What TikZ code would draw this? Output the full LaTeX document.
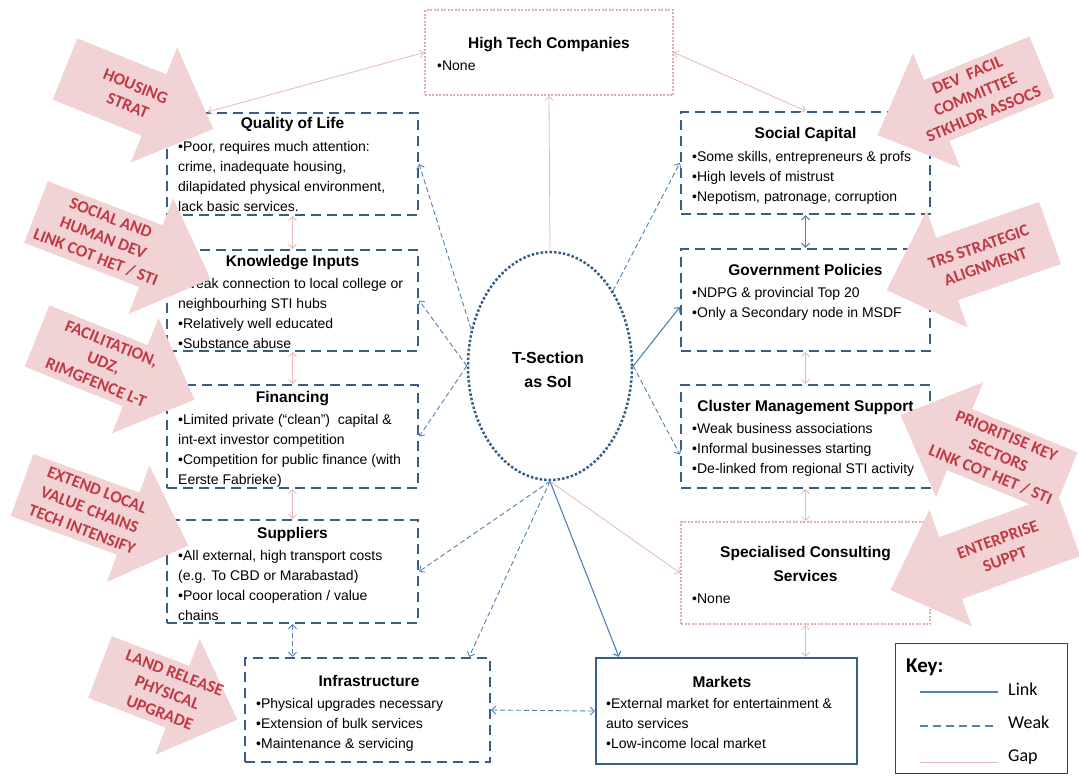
\documentclass[tikz,border=0pt]{standalone}
\usepackage{fontspec}
\setmainfont{Liberation Sans}
\newfontfamily\calibrifont{Carlito}
\usetikzlibrary{arrows.meta,shapes.geometric,calc}

\definecolor{boxblue}{RGB}{56,93,138}
\definecolor{linkblue}{RGB}{79,129,189}
\definecolor{gappink}{RGB}{230,185,184}
\definecolor{dotpink}{RGB}{228,172,172}
\definecolor{arrowfill}{RGB}{242,211,213}
\definecolor{arrowtext}{RGB}{192,58,70}

% block arrow: tail centre (#1,#2), direction #3, length #4, label angle #5, label #6
\newcommand{\blockarrow}[6]{%
  \begin{scope}[shift={(#1,#2)}, rotate=#3]
    \fill[arrowfill] (0,-33) -- ({#4-64},-33) -- ({#4-64},-62) -- (#4,0)
      -- ({#4-64},62) -- ({#4-64},33) -- (0,33) -- cycle;
    \node[arrowlabel, rotate=#5] at (72,0) {#6};
  \end{scope}}

\begin{document}
\begin{tikzpicture}[x=1pt,y=-1pt,
  box/.style={rectangle, inner sep=0pt, fill=white},
  weakbox/.style={box, draw=boxblue, line width=2.3pt, dash pattern=on 10pt off 6pt},
  linkbox/.style={box, draw=boxblue, line width=2.3pt},
  gapbox/.style={box, draw=dotpink, line width=2pt, dash pattern=on 2pt off 1.5pt},
  boxtitle/.style={font=\fontsize{15.5}{24}\selectfont\bfseries, inner sep=0pt, anchor=base},
  boxbody/.style={font=\fontsize{14}{20}\selectfont, inner sep=0pt, anchor=north west, align=left},
  barbs/.style={>={Straight Barb[length=4pt,width=8pt]}},
  gapline/.style={draw=gappink, line width=0.8pt, barbs},
  weakline/.style={draw=linkblue, line width=0.9pt, dash pattern=on 5pt off 3pt, barbs},
  linkline/.style={draw=linkblue, line width=1.1pt, barbs},
  arrowlabel/.style={text=arrowtext, font=\calibrifont\bfseries\fontsize{17}{21}\selectfont, align=center, inner sep=0pt},
  keylabel/.style={font=\calibrifont\fontsize{18}{20}\selectfont, anchor=base west, inner sep=0pt},
]
\useasboundingbox (0,0) rectangle (1079,777);
\fill[white] (0,0) rectangle (1079,777);

% ---- centre
\node[ellipse, draw=boxblue, line width=2.5pt, dash pattern=on 2.5pt off 2pt,
      minimum width=164pt, minimum height=228pt, inner sep=0pt, fill=white] (sol) at (550,366) {};
\node[boxtitle, font=\fontsize{16}{24}\selectfont\bfseries] (soltop) at (548,363) {T-Section};
\node[boxtitle, font=\fontsize{16}{24}\selectfont\bfseries] (solbot) at (548,387) {as SoI};

% ---- left column
\node[weakbox, minimum width=251pt, minimum height=102pt] (qol) at (292.5,164) {};
\node[boxtitle] at (292.5,128.5) {Quality of Life};
\node[boxbody] at (178,137) {\strut•Poor, requires much attention:\\crime, inadequate housing,\\dilapidated physical environment,\\lack basic services.};

\node[weakbox, minimum width=251pt, minimum height=101pt] (know) at (292.5,300.5) {};
\node[boxtitle] at (292.5,266.5) {Knowledge Inputs};
\node[boxbody] at (178,274) {\strut•Weak connection to local college or\\neighbourhing STI hubs\\•Relatively well educated\\•Substance abuse};

\node[weakbox, minimum width=251pt, minimum height=103pt] (fin) at (292.5,436.5) {};
\node[boxtitle] at (292.5,402.5) {Financing};
\node[boxbody] at (178,410) {\strut•Limited private (“clean”) \ capital \&\\int-ext investor competition\\•Competition for public finance (with\\Eerste Fabrieke)};

\node[weakbox, minimum width=251pt, minimum height=103pt] (sup) at (292.5,571.5) {};
\node[boxtitle] at (292.5,538.5) {Suppliers};
\node[boxbody] at (178,546) {\strut•All external, high transport costs\\(e.g. To CBD or Marabastad)\\•Poor local cooperation / value\\chains};

% ---- bottom row
\node[weakbox, minimum width=245pt, minimum height=104pt] (infra) at (367.5,710) {};
\node[boxtitle] at (369,686.5) {Infrastructure};
\node[boxbody] at (256,694) {\strut•Physical upgrades necessary\\•Extension of bulk services\\•Maintenance \& servicing};

\node[linkbox, minimum width=261pt, minimum height=106pt] (mkt) at (726.5,711) {};
\node[boxtitle] at (722,687.5) {Markets};
\node[boxbody] at (606,694) {\strut•External market for entertainment \&\\auto services\\•Low-income local market};

% ---- top
\node[gapbox, minimum width=248pt, minimum height=85pt] (htc) at (549,52.5) {};
\node[boxtitle] at (549,48.5) {High Tech Companies};
\node[boxbody] at (437,56) {\strut•None};

% ---- right column
\node[weakbox, minimum width=249pt, minimum height=102pt] (soc) at (805.5,163) {};
\node[boxtitle] at (805.5,138.5) {Social Capital};
\node[boxbody] at (692,147) {\strut•Some skills, entrepreneurs \& profs\\•High levels of mistrust\\•Nepotism, patronage, corruption};

\node[weakbox, minimum width=249pt, minimum height=102pt] (gov) at (805.5,300) {};
\node[boxtitle] at (805.5,275.5) {Government Policies};
\node[boxbody] at (692,283) {\strut•NDPG \& provincial Top 20\\•Only a Secondary node in MSDF};

\node[weakbox, minimum width=249pt, minimum height=103pt] (clus) at (805.5,436.5) {};
\node[boxtitle] at (805.5,411.5) {Cluster Management Support};
\node[boxbody] at (692,419) {\strut•Weak business associations\\•Informal businesses starting\\•De-linked from regional STI activity};

\node[gapbox, minimum width=249pt, minimum height=102pt] (spec) at (805.5,573) {};
\node[boxtitle] at (805.5,557.5) {Specialised Consulting};
\node[boxtitle] at (805.5,581.5) {Services};
\node[boxbody] at (692,589) {\strut•None};

% ---- connectors from the centre
\draw[gapline,->] (sol.north) -- (htc.south);
\draw[weakline,->] (sol.155) -- (qol.east);
\draw[weakline,->] (sol.west) -- (know.east);
\draw[weakline,->] (sol.west) -- (fin.east);
\draw[weakline,->] (sol.south) -- (sup.east);
\draw[weakline,->] (sol.south) -- ([xshift=-22pt]infra.north east);
\draw[linkline,->] (sol.south) -- ([xshift=24pt]mkt.north west);
\draw[gapline,->] (sol.south) -- (spec.west);
\draw[weakline,->] (sol.50) -- (soc.west);
\draw[linkline,->] (sol.east) -- ([yshift=-7pt]gov.west);
\draw[weakline,->] (sol.east) -- ([yshift=-18pt]clus.west);

% ---- connectors between boxes
\draw[gapline,<->] ([xshift=42pt]qol.north west) -- (htc.west);
\draw[gapline,<->] (htc.east) -- (soc.north);
\draw[gapline,<->] (qol.south) -- (know.north);
\draw[gapline,<->] (know.south) -- (fin.north);
\draw[gapline,<->] (fin.south) -- (sup.north);
\draw[weakline,<->] (sup.south) -- (sup.south |- infra.north);
\draw[weakline,<->] (infra.east) -- (mkt.west);
\draw[linkline,<->] (soc.south) -- (gov.north);
\draw[gapline,<->] (gov.south) -- (clus.north);
\draw[gapline,<->] (clus.south) -- (spec.north);
\draw[gapline,<->] (spec.south) -- (spec.south |- mkt.north);

% ---- intervention arrows
\blockarrow{65}{69}{-22}{160}{-22}{HOUSING\\STRAT}
\blockarrow{36}{212}{-21}{187}{-21}{SOCIAL AND\\HUMAN DEV\\LINK COT HET / STI}
\blockarrow{37}{336}{-22}{170}{-22}{FACILITATION,\\UDZ,\\RIMGFENCE L-T}
\blockarrow{22}{485}{-20}{177}{-21}{EXTEND LOCAL\\VALUE CHAINS\\TECH INTENSIFY}
\blockarrow{100}{667}{-21}{147}{-21}{LAND RELEASE\\PHYSICAL\\UPGRADE}
\blockarrow{1042}{67}{202.5}{178}{22.5}{DEV\ \ FACIL\\COMMITTEE\\STKHLDR ASSOCS}
\blockarrow{1050}{233}{199.3}{173}{19.3}{TRS STRATEGIC\\ALIGNMENT}
\blockarrow{1069}{525}{200}{190}{20}{ENTERPRISE\\SUPPT}
\blockarrow{1065}{483}{157.6}{178}{-22.4}{PRIORITISE KEY\\SECTORS\\LINK COT HET / STI}

% ---- key
\node[draw=black!75, line width=0.8pt, fill=white, minimum width=172pt, minimum height=130pt, inner sep=0pt] (key) at (981,708) {};
\node[font=\calibrifont\bfseries\fontsize{21}{24}\selectfont, anchor=base west, inner sep=0pt] (keyhead) at (906,672) {Key:};
\coordinate (linkA) at (920,692);  \coordinate (linkB) at (998,692);
\coordinate (weakA) at (920,726);  \coordinate (weakB) at (998,726);
\coordinate (gapA)  at (920,762);  \coordinate (gapB)  at (998,762);
\draw[linkblue, line width=2pt] (linkA) -- (linkB);
\draw[linkblue, line width=2pt, dash pattern=on 8pt off 5pt] (weakA) -- (weakB);
\draw[gappink, line width=1pt] (gapA) -- (gapB);
\node[keylabel] (klink) at (1008,695) {Link};
\node[keylabel] (kweak) at (1008,728) {Weak};
\node[keylabel] (kgap) at (1008,761) {Gap};
\end{tikzpicture}
\end{document}
